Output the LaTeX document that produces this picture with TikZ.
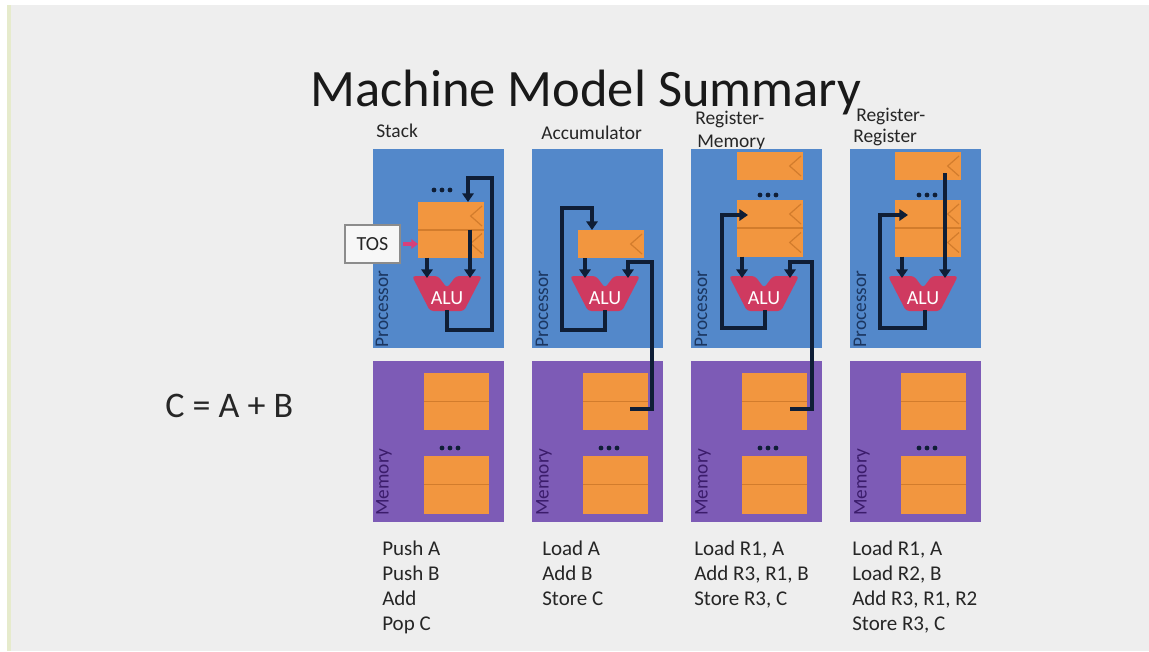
\documentclass[tikz,border=0pt]{standalone}
\usepackage{fontspec}
\setmainfont{Carlito}
\usetikzlibrary{arrows.meta}
\definecolor{bgcol}{HTML}{EEEEEE}
\definecolor{edgecol}{HTML}{E6EBCC}
\definecolor{procblue}{HTML}{5388CA}
\definecolor{mempurple}{HTML}{7D5BB6}
\definecolor{regorange}{HTML}{F2963F}
\definecolor{divcol}{HTML}{D27C2C}
\definecolor{alured}{HTML}{CF3A60}
\definecolor{wirecol}{HTML}{0F1E36}
\definecolor{proctext}{HTML}{1B3660}
\definecolor{memtext}{HTML}{3B1C6B}
\definecolor{tospink}{HTML}{D8407A}
\definecolor{txtcol}{HTML}{262626}
\begin{document}
\begin{tikzpicture}[x=0.75pt,y=-0.75pt,
  procbox/.style={fill=procblue,inner sep=0pt,outer sep=0pt,anchor=north west,minimum width=98.25pt,minimum height=149.25pt},
  membox/.style={fill=mempurple,inner sep=0pt,outer sep=0pt,anchor=north west,minimum width=98.25pt,minimum height=120.75pt},
  regbox/.style={fill=regorange,inner sep=0pt,outer sep=0pt,anchor=north west,minimum width=49.5pt,minimum height=21pt},
  memcell/.style={fill=regorange,inner sep=0pt,outer sep=0pt,anchor=north west,minimum width=48.75pt,minimum height=21.4pt},
  divline/.style={draw=divcol,line width=0.8pt},
  chev/.style={draw=divcol,line width=0.9pt},
  arr/.style={draw=wirecol,line width=2.6pt,-{Triangle[length=6.5pt,width=8.5pt]}},
  pinkarr/.style={draw=tospink,line width=2.4pt,-{Triangle[length=5pt,width=7pt]}},
  alushape/.style={fill=alured,rounded corners=2.5pt},
  alutext/.style={text=white,font=\fontsize{15}{18}\selectfont,inner sep=0pt},
  vlab/.style={rotate=90,inner sep=0pt,font=\fontsize{14.5}{17}\selectfont},
  lab/.style={anchor=base west,inner sep=0pt,text=txtcol,font=\fontsize{14.6}{17}\selectfont},
  code/.style={anchor=base west,inner sep=0pt,text=txtcol,font=\fontsize{15.75}{19}\selectfont},
  tosbox/.style={draw=black!45,fill=black!3,line width=1.2pt,minimum width=41.25pt,minimum height=28.5pt,inner sep=0pt,text=txtcol,font=\fontsize{15}{18}\selectfont}
]
\useasboundingbox (0,0) rectangle (1149,651);
\fill[bgcol] (0,0) rectangle (1149,651);
\fill[white] (0,0) rectangle (7,651);
\fill[edgecol] (7,0) rectangle (11,651);
\fill[white] (0,0) rectangle (1149,5);

% title and labels
\node[anchor=base west,inner sep=0pt,text=black!90,font=\fontsize{39.4}{46}\selectfont] (title) at (310,106) {Machine Model Summary};
\node[lab] (lstack) at (376,137) {Stack};
\node[lab] (lacc) at (541,139) {Accumulator};
\node[lab] (lrm1) at (695,124) {Register-};
\node[lab] (lrm2) at (697,147) {Memory};
\node[lab] (lrr1) at (856,121) {Register-};
\node[lab] (lrr2) at (853,142) {Register};
\node[anchor=base west,inner sep=0pt,text=txtcol,font=\fontsize{27}{32}\selectfont] (eq) at (165,417) {C = A + B};

% ---------- column 1: Stack ----------
\begin{scope}[shift={(373,0)}]
\node[procbox] (p1) at (0,149) {};
\node[membox] (m1) at (0,361) {};
\node[vlab,text=proctext] (pt1) at (9,309) {Processor};
\node[vlab,text=memtext] (mt1) at (11,482) {Memory};
\foreach \dx in {-8,0,8} \fill[wirecol] ({69+\dx},190) circle (2.4);
\node[regbox] (c1r1) at (45,202) {};
\node[regbox] (c1r2) at (45,229.5) {};
\draw[divline] (c1r1.south west) -- (c1r1.south east);
\foreach \r in {c1r1,c1r2} \draw[chev] ([xshift=-1.5pt,yshift=-3pt]\r.north east) -- ([xshift=-10pt]\r.east) -- ([xshift=-1.5pt,yshift=3pt]\r.south east);
\fill[alushape] (39,276) -- (65,276) -- (74,288) -- (83,276) -- (109,276) -- (91,311) -- (57,311) -- cycle;
\node[alutext] (c1alu) at (74,298) {ALU};
\node[memcell] (c1ma) at (51,373) {};
\node[memcell] (c1mb) at (51,401.5) {};
\node[memcell] (c1mc) at (51,456) {};
\node[memcell] (c1md) at (51,485) {};
\draw[divline] (c1ma.south west) -- (c1ma.south east);
\draw[divline] (c1mc.south west) -- (c1mc.south east);
\foreach \dx in {-8,0,8} \fill[wirecol] ({77+\dx},448) circle (2.4);
\node[tosbox] (tos) at (-0.5,244) {TOS};
\draw[pinkarr,shorten <=2pt] (tos.east) -- (c1r2.west |- tos.east);
\coordinate (c1inL) at (54,278);
\coordinate (c1inR) at (97,278);
\coordinate (c1out) at (74,310);
\coordinate (c1fb) at (95,178);
\draw[arr] (c1r2.south -| c1inL) -- (c1inL);
\draw[arr] (c1r2.north -| c1inR) -- (c1inR);
\draw[arr] (c1out) -- (74,330) -- (119,330) -- (119,178) -- (c1fb) -- (c1r1.north -| c1fb);
\end{scope}

% ---------- column 2: Accumulator ----------
\begin{scope}[shift={(532,0)}]
\node[procbox] (p2) at (0,149) {};
\node[membox] (m2) at (0,361) {};
\node[vlab,text=proctext] (pt2) at (10,309) {Processor};
\node[vlab,text=memtext] (mt2) at (12,482) {Memory};
\node[regbox] (c2r) at (46,230) {};
\draw[chev] ([xshift=-1.5pt,yshift=-3pt]c2r.north east) -- ([xshift=-10pt]c2r.east) -- ([xshift=-1.5pt,yshift=3pt]c2r.south east);
\fill[alushape] (38,276) -- (64,276) -- (73,288) -- (82,276) -- (108,276) -- (90,311) -- (56,311) -- cycle;
\node[alutext] (c2alu) at (73,298) {ALU};
\node[memcell] (c2ma) at (51,373) {};
\node[memcell] (c2mb) at (51,401.5) {};
\node[memcell] (c2mc) at (51,456) {};
\node[memcell] (c2md) at (51,485) {};
\draw[divline] (c2ma.south west) -- (c2ma.south east);
\draw[divline] (c2mc.south west) -- (c2mc.south east);
\foreach \dx in {-8,0,8} \fill[wirecol] ({77+\dx},448) circle (2.4);
\coordinate (c2inL) at (53,278);
\coordinate (c2inR) at (96,278);
\coordinate (c2out) at (73,310);
\coordinate (c2fb) at (60,208);
\coordinate (c2mem) at (98,409);
\draw[arr] (c2r.south -| c2inL) -- (c2inL);
\draw[arr] (c2out) -- (73,330) -- (30,330) -- (30,208) -- (c2fb) -- (c2r.north -| c2fb);
\draw[arr] (c2mem) -- (120,409) -- (120,262) -- (96,262) -- (c2inR);
\end{scope}

% ---------- column 3: Register-Memory ----------
\begin{scope}[shift={(691,0)}]
\node[procbox] (p3) at (0,149) {};
\node[membox] (m3) at (0,361) {};
\node[vlab,text=proctext] (pt3) at (10,309) {Processor};
\node[vlab,text=memtext] (mt3) at (12,482) {Memory};
\node[regbox] (c3t) at (46,152) {};
\foreach \dx in {-8,0,8} \fill[wirecol] ({77+\dx},195) circle (2.4);
\node[regbox] (c3r1) at (46,200) {};
\node[regbox] (c3r2) at (46,228.5) {};
\draw[divline] (c3r1.south west) -- (c3r1.south east);
\foreach \r in {c3t,c3r1,c3r2} \draw[chev] ([xshift=-1.5pt,yshift=-3pt]\r.north east) -- ([xshift=-10pt]\r.east) -- ([xshift=-1.5pt,yshift=3pt]\r.south east);
\fill[alushape] (38,276) -- (64,276) -- (73,288) -- (82,276) -- (108,276) -- (90,311) -- (56,311) -- cycle;
\node[alutext] (c3alu) at (73,298) {ALU};
\node[memcell] (c3ma) at (51,373) {};
\node[memcell] (c3mb) at (51,401.5) {};
\node[memcell] (c3mc) at (51,456) {};
\node[memcell] (c3md) at (51,485) {};
\draw[divline] (c3ma.south west) -- (c3ma.south east);
\draw[divline] (c3mc.south west) -- (c3mc.south east);
\foreach \dx in {-8,0,8} \fill[wirecol] ({77+\dx},448) circle (2.4);
\coordinate (c3inL) at (51,278);
\coordinate (c3inR) at (99,278);
\coordinate (c3out) at (74,310);
\coordinate (c3fb) at (57,215);
\coordinate (c3mem) at (99,409);
\draw[arr] (c3r2.south -| c3inL) -- (c3inL);
\draw[arr] (c3out) -- (74,328) -- (31,328) -- (31,215) -- (c3fb);
\draw[arr] (c3mem) -- (121,409) -- (121,262) -- (99,262) -- (c3inR);
\end{scope}

% ---------- column 4: Register-Register ----------
\begin{scope}[shift={(850,0)}]
\node[procbox] (p4) at (0,149) {};
\node[membox] (m4) at (0,361) {};
\node[vlab,text=proctext] (pt4) at (10,309) {Processor};
\node[vlab,text=memtext] (mt4) at (12,482) {Memory};
\node[regbox] (c4t) at (45,152) {};
\foreach \dx in {-8,0,8} \fill[wirecol] ({77+\dx},195) circle (2.4);
\node[regbox] (c4r1) at (45,200) {};
\node[regbox] (c4r2) at (45,228.5) {};
\draw[divline] (c4r1.south west) -- (c4r1.south east);
\foreach \r in {c4t,c4r1,c4r2} \draw[chev] ([xshift=-1.5pt,yshift=-3pt]\r.north east) -- ([xshift=-10pt]\r.east) -- ([xshift=-1.5pt,yshift=3pt]\r.south east);
\fill[alushape] (38,276) -- (64,276) -- (73,288) -- (82,276) -- (108,276) -- (90,311) -- (56,311) -- cycle;
\node[alutext] (c4alu) at (73,298) {ALU};
\node[memcell] (c4ma) at (51,373) {};
\node[memcell] (c4mb) at (51,401.5) {};
\node[memcell] (c4mc) at (51,456) {};
\node[memcell] (c4md) at (51,485) {};
\draw[divline] (c4ma.south west) -- (c4ma.south east);
\draw[divline] (c4mc.south west) -- (c4mc.south east);
\foreach \dx in {-8,0,8} \fill[wirecol] ({77+\dx},448) circle (2.4);
\coordinate (c4inL) at (52,278);
\coordinate (c4inR) at (95,278);
\coordinate (c4out) at (75,310);
\coordinate (c4fb) at (58,215);
\coordinate (c4src) at (95,173);
\draw[arr] (c4r2.south -| c4inL) -- (c4inL);
\draw[arr] (c4out) -- (75,328) -- (30,328) -- (30,215) -- (c4fb);
\draw[arr] (c4src) -- (c4inR);
\end{scope}

% instruction sequences
\foreach \t [count=\i] in {{Push A},{Push B},{Add},{Pop C}}
  \node[code] (s\i) at (382,{530+25*\i}) {\t};
\foreach \t [count=\i] in {{Load A},{Add B},{Store C}}
  \node[code] (a\i) at (542,{530+25*\i}) {\t};
\foreach \t [count=\i] in {{Load R1, A},{Add R3, R1, B},{Store R3, C}}
  \node[code] (rm\i) at (694,{530+25*\i}) {\t};
\foreach \t [count=\i] in {{Load R1, A},{Load R2, B},{Add R3, R1, R2},{Store R3, C}}
  \node[code] (rr\i) at (852,{530+25*\i}) {\t};
\end{tikzpicture}
\end{document}
